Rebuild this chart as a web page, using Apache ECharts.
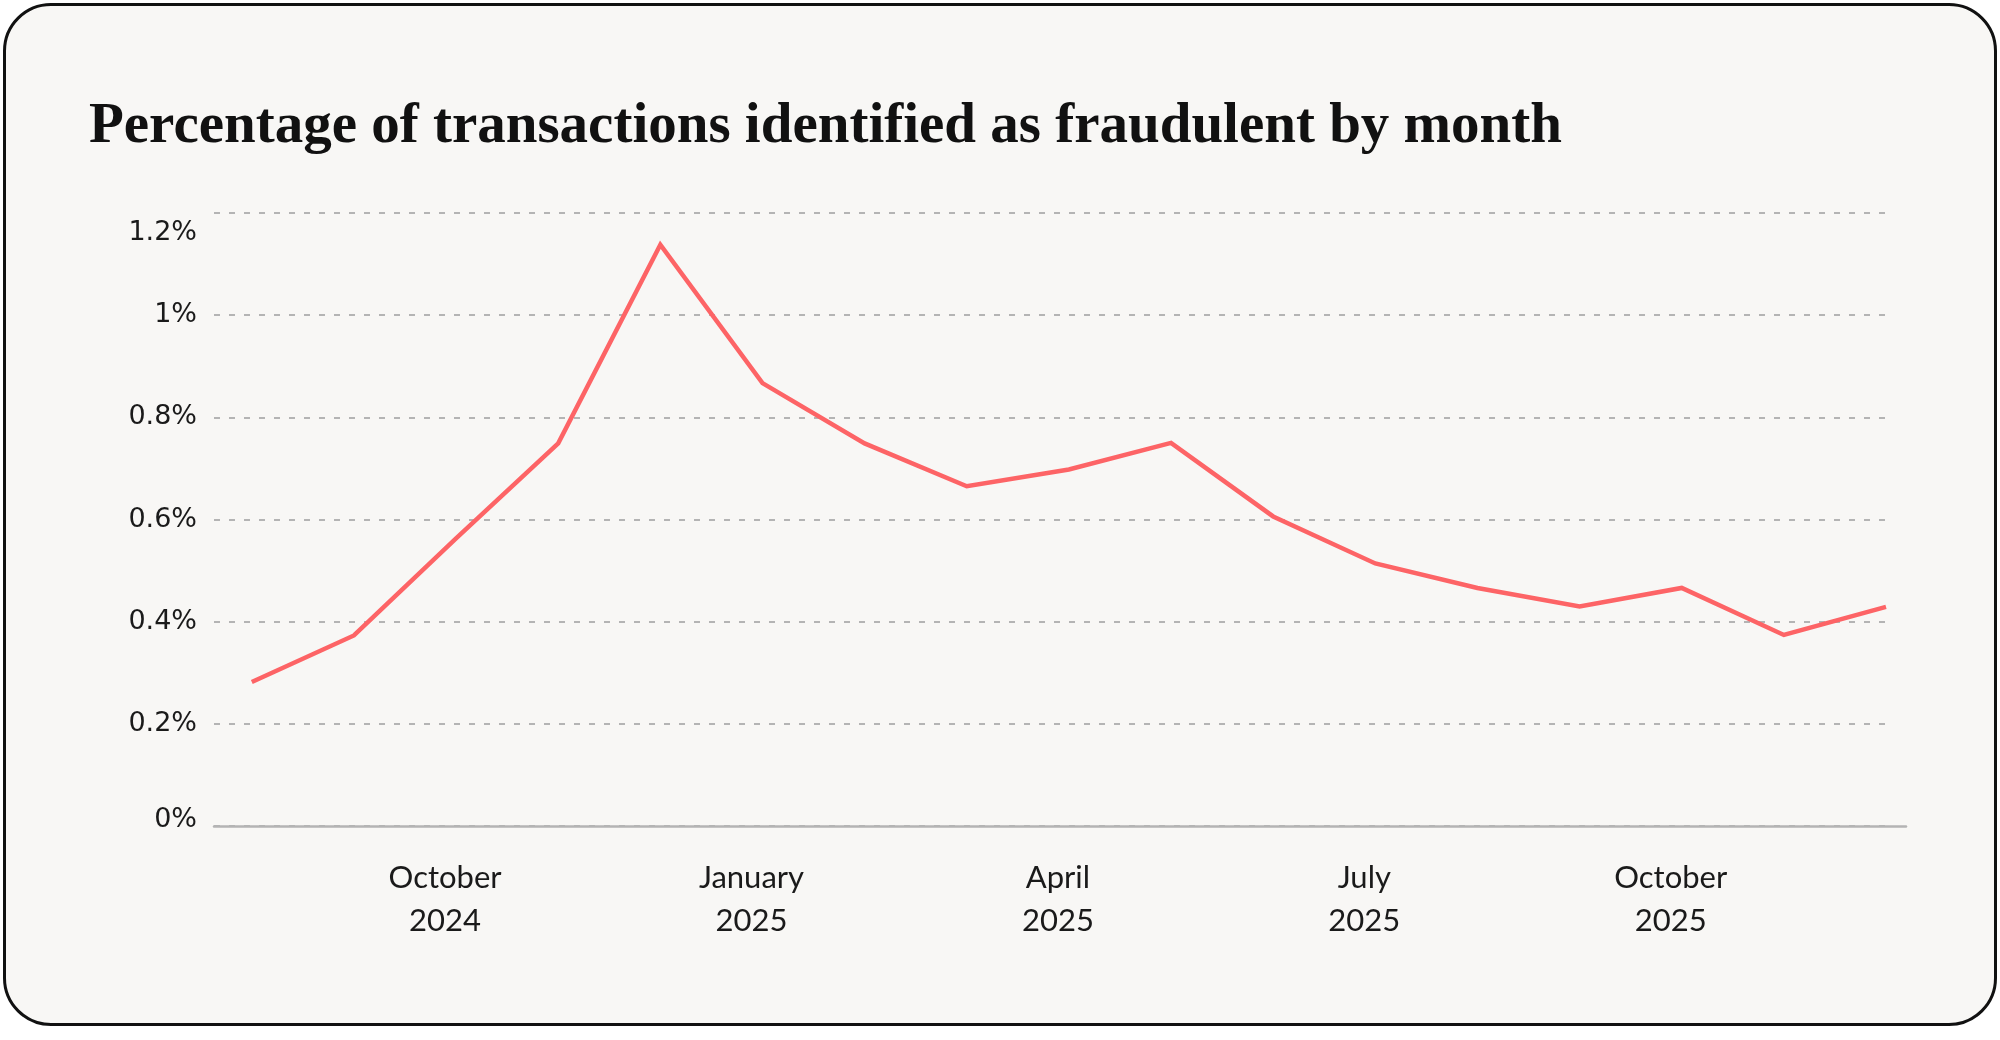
<!DOCTYPE html>
<html>
<head>
<meta charset="utf-8">
<script src="https://cdn.jsdelivr.net/npm/echarts@6/dist/echarts.min.js"></script>
<style>
  html, body { margin: 0; padding: 0; background: #ffffff; }
  #card {
    position: absolute; left: 3px; top: 3px; width: 1994px; height: 1023px;
    box-sizing: border-box; border: 3.5px solid #111; border-radius: 48px;
    background: #f8f7f5;
  }
  #chart { position: absolute; left: 0; top: 0; width: 2000px; height: 1040px; }
</style>
</head>
<body>
<div id="card"></div>
<div id="chart"></div>
<script>
// months shown on the x axis, one point per month
var months = [
  'August 2024', 'September 2024', 'October 2024', 'November 2024', 'December 2024',
  'January 2025', 'February 2025', 'March 2025', 'April 2025', 'May 2025', 'June 2025',
  'July 2025', 'August 2025', 'September 2025', 'October 2025', 'November 2025', 'December 2025'
];
// % of transactions flagged as fraudulent
var fraudPct = [0.282, 0.373, 0.563, 0.749, 1.138, 0.867, 0.749, 0.665, 0.698, 0.750,
                0.606, 0.514, 0.466, 0.430, 0.466, 0.374, 0.429];
// which months get a label
var labelMonths = [2, 5, 8, 11, 14];

var chart = echarts.init(document.getElementById('chart'));

var points = fraudPct.map(function (v, i) { return [i, v]; });

var option = {
  backgroundColor: 'transparent',
  animation: false,
  title: {
    text: 'Percentage of transactions identified as fraudulent by month',
    left: 84,
    top: 94,
    textStyle: {
      fontFamily: 'Liberation Serif',
      fontWeight: 'bold',
      fontSize: 57,
      color: '#111'
    }
  },
  grid: [
    { left: 214, right: 114, top: 213, bottom: 214 },
    { left: 214, right: 94, top: 213, bottom: 214 }
  ],
  xAxis: [
    {
      type: 'value',
      gridIndex: 0,
      min: -0.37,
      max: 16,
      axisLine: { show: false },
      axisTick: { show: false },
      splitLine: { show: false },
      axisLabel: {
        customValues: labelMonths,
        margin: 30,
        padding: [0, 22, 0, 0],
        fontFamily: 'Lato',
        fontSize: 31,
        lineHeight: 43,
        color: '#1a1a1a',
        formatter: function (v) { return months[v].replace(' ', '\n'); }
      }
    },
    {
      type: 'value',
      gridIndex: 1,
      min: 0,
      max: 1,
      axisLine: { show: true, lineStyle: { color: '#b4b4b4', width: 2.5 } },
      axisTick: { show: false },
      axisLabel: { show: false },
      splitLine: { show: false }
    }
  ],
  yAxis: [
    {
      type: 'value',
      gridIndex: 0,
      min: 0,
      max: 1.2,
      interval: 0.2,
      axisLine: { show: false },
      axisTick: { show: false },
      splitLine: { show: true, lineStyle: { color: '#b4b4b4', width: 2.2, type: [6, 9] } },
      axisLabel: {
        margin: 17,
        fontFamily: 'DejaVu Sans',
        fontSize: 27,
        color: '#1a1a1a',
        formatter: function (v) {
          var s = (+v.toFixed(1)) + '%';
          if (v >= 1.19) return '{top|' + s + '}';
          if (v === 0) return '{zero|' + s + '}';
          return s;
        },
        rich: {
          top: { fontFamily: 'DejaVu Sans', fontSize: 27, color: '#1a1a1a', padding: [40, 0, 0, 0] },
          zero: { fontFamily: 'DejaVu Sans', fontSize: 27, color: '#1a1a1a', padding: [0, 0, 13, 0] }
        }
      }
    },
    {
      type: 'value',
      gridIndex: 1,
      min: 0,
      max: 1.2,
      show: false,
      splitLine: { show: false }
    }
  ],
  series: [
    {
      type: 'line',
      xAxisIndex: 0,
      yAxisIndex: 0,
      data: points,
      symbol: 'none',
      lineStyle: { color: '#fd6466', width: 4.5, join: 'miter' }
    }
  ]
};

chart.setOption(option);
</script>
</body>
</html>
